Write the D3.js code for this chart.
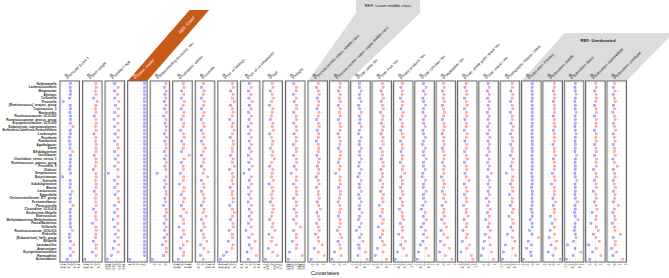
<!DOCTYPE html>
<html>
<head>
<meta charset="utf-8">
<script src="https://cdn.jsdelivr.net/npm/d3@7"></script>
<style>
  body { margin: 0; background: #fff; }
  text { font-family: "Liberation Sans", Arial, sans-serif; }
</style>
</head>
<body>
<div id="chart"></div>
<script>
// --- DATA ---
const rows = ["Holdemanella","Lachnoclostridium","Megamonas","Alistipes","Collinsella","Prevotella",
  "[Ruminococcus]_torques_group","Coprococcus_3","Bacteroides","Ruminococcaceae_UCG-002","Ruminococcaceae_gnavus_group",
  "Erysipelotrichaceae_UCG-003","Eubacterium_coprostanoligenes","Burkholderia-Caballeronia-Paraburkholderia",
  "Lachnospira","Roseburia","Romboutsia","Agathobacter","Dorea","Bifidobacterium","Oscillibacter",
  "Clostridium_sensu_stricto_1","Ruminococcus_gnavus_group","Prevotella_9","Dialister","Streptococcus",
  "Butyricimonas","Sutterella","Subdoligranulum","Blautia","Lactococcus","Eggerthella",
  "Christensenellaceae_R-7_group","Fusicatenibacter","Parasutterella","Clostridium_UCG-014",
  "Escherichia-Shigella","Enterococcus","Methylobacterium-Methylorubrum","Faecalibacterium","Veillonella",
  "Ruminococcaceae_UCG-013","Klebsiella","[Eubacterium]_hallii_group","Bilophila","Lactobacillus",
  "Anaerostipes","Erysipelatoclostridium","Haemophilus","Acinetobacter"];

const covariates = ["APGAR Score 1","Birth weight","Mother's age","Status: Awake","Breastfeeding exclusive: Yes",
  "Gestation: weeks","Gravida","No. of Siblings","No. of co-inhabitants","Age","Height",
  "Socioeconomic status: Middle class","Socioeconomic status: Upper middle class","Diet: Meat Yes","Diet: Fish Yes",
  "Dairy products Yes","Diet: Chicken Yes","Vegetables Yes","Diet: whole grain cereal Yes","Diet: snacks Yes",
  "Geographic Region: Other","Education: Primary","Education: Middle","Education: Basic",
  "Education: Intermediate","Education: Graduate"];

const domains = [[-0.6,0.4],[-0.6,0.3],[-0.06,0.04],[-4.2,0.2],[-2.5,0.5],[-0.6,0.6],[-0.3,0.6],[-0.8,0.3],
  [-0.4,0.4],[-0.1,0.15],[-0.06,0.06],[-1.5,1.5],[-1.5,1.5],[-1,1],[-1,1],[-1,1.5],[-1,1],[-1,2],[-1,1.5],
  [-1.5,1.5],[-1.5,1],[-2,1.5],[-2,1.5],[-1.5,1],[-1.5,1.5],[-1,2]];

const p0 = [-0.06,-0.08,-0.05,-0.07,-0.1,-0.5,-0.08,-0.06,-0.09,-0.05,-0.04,-0.07,0.1,-0.08,-0.06,-0.1,-0.12,-0.08,-0.09,0.08,-0.06,-0.05,-0.08,-0.07,-0.1,-0.05,-0.52,-0.08,-0.06,-0.09,0.05,-0.07,-0.06,-0.08,0.1,-0.05,-0.09,-0.06,-0.08,-0.07,-0.05,0.06,-0.1,-0.12,-0.06,0.15,-0.08,0.12,-0.06,-0.25];
const p1 = [0.05,0.06,0.04,0.06,-0.08,0.12,0.05,0.04,0.06,-0.05,0.05,0.07,0.04,0.06,-0.06,0.05,0.04,0.08,0.05,0.06,-0.04,0.05,0.06,0.04,-0.1,0.05,0.06,0.04,0.07,0.05,-0.05,0.06,0.04,0.05,0.06,-0.08,0.05,0.04,0.06,-0.12,0.05,0.06,0.05,0.04,-0.09,0.06,0.05,-0.14,0.06,-0.55];
const p2 = [-0.01,0.01,-0.012,0.008,-0.01,0.015,-0.008,0.012,-0.01,0.01,-0.015,0.009,-0.01,0.012,-0.009,0.01,-0.012,0.008,0.011,-0.01,0.01,-0.008,0.012,-0.01,0.009,-0.05,0.01,-0.012,0.008,-0.01,0.012,-0.009,0.01,0.015,-0.01,0.008,-0.012,0.01,-0.02,0.009,-0.01,0.012,-0.008,0.01,-0.012,0.015,-0.02,0.01,-0.03,-0.055];
const p3 = [-0.05,-0.06,-0.04,-0.05,-0.07,-0.05,-0.06,-0.04,-0.05,-0.06,-0.05,-0.04,-0.06,-0.05,-0.05,-0.07,-0.04,-0.05,-0.06,-0.05,-0.04,-0.05,-0.06,-0.05,-0.07,-0.05,-0.04,-0.06,-0.05,-0.05,-0.04,-0.06,-0.05,-0.05,-0.07,-0.04,-0.05,-0.06,-0.05,-0.04,-0.06,-0.05,-0.05,-0.07,-0.04,-0.05,-0.06,-0.05,-0.04,-4.0];
const p4 = [0.1,-0.15,0.12,-0.1,0.08,-0.2,0.1,-0.12,0.15,-0.3,0.1,-0.08,0.12,0.1,-0.15,0.2,-0.1,0.08,0.12,-0.2,0.1,-0.12,0.15,-0.1,0.08,-1.5,0.1,-0.15,0.12,-0.2,0.1,0.15,-0.1,0.08,-0.3,0.12,0.2,-0.1,0.15,-0.25,0.1,-0.12,0.3,-0.2,0.1,-0.5,0.15,0.2,-0.3,-2.3];
const p5 = [0.08,0.12,-0.05,0.1,-0.08,0.15,0.05,-0.1,0.12,0.08,-0.06,0.1,0.05,-0.12,0.08,0.15,-0.05,0.1,0.06,-0.08,0.5,0.12,-0.1,0.05,0.08,-0.15,0.1,0.06,-0.2,0.12,0.08,-0.1,0.15,0.05,-0.08,0.1,0.3,-0.12,0.06,0.1,-0.25,0.08,0.12,-0.1,0.35,0.05,-0.15,0.1,0.08,-0.3];
const p6 = [0.08,-0.04,0.1,0.06,-0.05,0.12,0.08,-0.03,0.1,0.05,-0.06,0.08,0.12,-0.04,0.06,0.1,-0.05,0.08,0.15,0.06,-0.04,0.1,0.08,-0.06,0.12,0.05,0.3,-0.05,0.08,0.1,-0.04,0.06,0.12,0.08,-0.06,0.1,0.05,0.2,-0.04,0.08,0.12,-0.05,0.06,0.1,0.25,-0.08,0.1,0.35,-0.1,0.05];
const p7 = [0.1,0.15,-0.05,0.12,0.08,0.2,-0.06,0.1,0.15,0.08,-0.1,0.12,0.05,0.18,0.1,-0.08,0.12,0.15,0.06,0.1,-0.05,0.12,0.08,0.2,-0.12,0.1,0.15,0.05,0.12,-0.08,0.1,0.06,0.15,0.12,-0.1,0.08,0.2,0.1,-0.05,0.12,0.15,-0.15,0.08,0.1,-0.2,0.12,0.05,-0.3,-0.5,-0.7];
const p8 = [-0.05,0.06,-0.08,0.04,-0.06,0.1,-0.04,0.05,-0.07,0.08,-0.05,0.06,-0.1,0.04,-0.06,0.07,-0.05,0.08,-0.04,0.06,-0.08,0.05,-0.06,0.1,-0.05,-0.3,0.06,-0.04,0.07,-0.08,0.05,-0.06,0.04,-0.1,0.06,-0.05,0.08,-0.04,0.06,-0.07,0.05,-0.2,0.1,-0.06,0.25,-0.05,0.08,-0.15,0.3,-0.1];
const p9 = [0.02,0.03,-0.01,0.02,0.04,0.01,-0.02,0.03,0.02,0.01,-0.01,0.03,0.02,0.04,-0.02,0.01,0.03,0.02,-0.01,0.03,0.02,0.05,0.01,-0.02,0.03,0.02,0.01,0.04,-0.03,0.02,0.03,0.01,0.02,-0.01,0.03,0.04,0.02,0.01,-0.02,0.03,0.02,0.06,-0.03,0.02,0.01,0.08,-0.04,0.03,0.1,-0.08];
const p10 = [-0.01,0.01,0.008,-0.012,0.01,-0.008,0.012,0.01,-0.01,0.009,0.011,-0.01,0.008,0.012,-0.009,0.01,0.008,-0.012,0.01,0.011,-0.01,0.009,0.012,-0.008,0.01,-0.03,0.011,0.01,-0.012,0.008,0.01,0.012,-0.01,0.009,0.011,-0.009,0.01,0.012,-0.01,0.008,0.04,-0.011,0.01,0.009,-0.02,0.012,0.01,-0.04,0.05,-0.05];
const p11 = [0.1,-0.2,0.15,0.3,-0.1,0.2,0.12,-0.15,0.25,0.1,-0.2,0.15,0.3,-0.1,0.2,0.1,-0.25,0.15,0.2,0.1,-0.15,0.3,0.12,-0.1,0.2,0.15,-0.3,0.1,0.25,-0.2,0.15,0.1,0.3,-0.1,0.2,0.5,-0.15,0.1,0.25,-0.2,0.15,0.3,-0.4,0.1,0.2,0.8,-0.6,0.15,1.2,-1.2];
const p12 = [0.2,0.15,-0.1,0.25,0.1,0.3,-0.15,0.2,0.12,0.25,-0.1,0.15,0.3,0.2,-0.2,0.1,0.25,0.15,-0.1,0.3,0.2,0.12,-0.15,0.25,0.1,-0.6,0.2,0.15,0.3,-0.1,0.25,0.2,0.1,-0.2,0.15,0.3,0.12,-0.15,0.2,0.25,0.1,-0.3,0.2,0.5,-0.2,0.15,0.3,-0.8,0.4,-1.3];
const p13 = [-0.1,-0.15,0.08,-0.12,-0.08,0.1,-0.2,-0.1,0.12,-0.15,-0.05,-0.1,0.1,-0.12,-0.2,0.08,-0.1,-0.15,0.12,-0.08,-0.1,0.15,-0.12,-0.2,0.1,-0.1,-0.3,0.08,-0.15,-0.1,0.12,-0.2,-0.08,0.1,-0.12,-0.15,0.2,-0.1,-0.25,0.08,-0.12,-0.5,0.15,-0.1,0.3,-0.2,-0.15,0.6,-0.3,0.8];
const p14 = [0.1,0.15,-0.1,0.12,0.2,-0.08,0.1,0.18,-0.12,0.15,0.1,-0.05,0.2,0.12,-0.1,0.15,0.08,0.2,-0.15,0.1,0.12,-0.08,0.15,0.2,-0.1,0.12,0.1,-0.2,0.15,0.08,-0.12,0.2,0.1,0.15,-0.3,0.12,0.1,-0.15,0.2,0.08,-0.4,0.15,0.12,-0.2,0.1,0.3,-0.5,0.15,-0.8,0.6];
const p15 = [0.2,-0.1,0.15,0.1,-0.15,0.2,0.12,-0.08,0.25,0.1,-0.12,0.15,0.2,-0.1,0.12,0.3,-0.15,0.1,0.2,-0.08,0.15,0.1,-0.2,0.25,0.12,0.5,-0.1,0.15,0.2,-0.12,0.1,0.25,-0.15,0.12,0.2,-0.3,0.1,0.15,0.35,-0.2,0.12,0.2,-0.4,0.15,0.6,-0.1,0.3,-0.6,0.8,-0.9];
const p16 = [-0.1,0.2,-0.15,0.1,-0.2,-0.1,0.15,-0.12,-0.2,0.1,-0.15,-0.1,0.12,-0.2,-0.1,0.15,-0.12,-0.25,0.1,-0.15,-0.1,0.2,-0.12,-0.15,0.1,-0.2,-0.3,0.12,-0.1,-0.15,0.2,-0.12,-0.1,0.15,-0.2,-0.35,0.1,-0.15,0.25,-0.12,-0.4,0.15,-0.1,0.3,-0.2,-0.5,0.2,-0.7,0.5,-0.9];
const p17 = [0.1,0.2,-0.1,0.15,0.1,0.25,-0.15,0.1,0.2,0.12,-0.1,0.15,0.3,0.1,-0.2,0.15,0.1,0.2,-0.12,0.1,0.25,0.15,-0.1,0.2,0.1,0.15,-0.3,0.1,0.2,0.12,-0.15,0.25,0.1,0.5,-0.2,0.15,0.1,0.3,-0.25,0.2,0.6,-0.4,0.15,0.8,-0.5,0.3,1.2,-0.6,0.4,1.6];
const p18 = [0.1,-0.1,0.15,0.2,-0.12,0.1,0.25,-0.15,0.12,0.2,-0.1,0.15,0.1,-0.2,0.25,0.12,-0.1,0.2,0.15,-0.12,0.1,0.3,-0.15,0.12,0.2,-0.1,0.15,0.5,-0.2,0.1,0.25,-0.15,0.12,0.2,-0.3,0.15,0.1,0.4,-0.25,0.2,0.12,-0.4,0.3,0.15,-0.5,0.6,0.2,-0.7,0.9,1.1];
const p19 = [-0.1,0.15,-0.2,0.1,-0.15,0.2,-0.1,0.12,-0.25,0.15,-0.1,0.2,-0.15,0.1,-0.2,0.25,-0.12,0.15,-0.1,0.2,-0.3,0.1,-0.15,0.2,-0.1,0.5,-0.2,0.15,-0.12,0.25,-0.1,0.2,-0.4,0.1,-0.15,0.3,-0.2,0.15,-0.5,0.2,-0.1,0.4,-0.6,0.15,-0.8,0.3,-1.0,0.5,-1.3,0.9];
const p20 = [0.1,0.15,-0.1,0.2,0.12,-0.15,0.1,0.2,-0.2,0.15,0.1,-0.1,0.25,0.12,-0.15,0.1,0.2,-0.12,0.15,0.1,-0.2,0.25,0.12,-0.1,0.15,-0.8,0.2,0.1,-0.15,0.12,0.2,-0.3,0.15,0.1,-0.2,0.25,0.12,-0.4,0.15,0.3,-0.1,0.2,-0.6,0.15,0.5,-0.9,0.2,-1.2,0.6,-1.4];
const p21 = [-0.05,-0.08,-0.1,-0.06,-0.05,-0.12,-0.08,-0.05,-0.1,-0.06,-0.08,-0.05,-0.12,-0.06,-0.1,-0.05,-0.08,-0.06,-0.1,-0.05,-0.12,-0.08,-0.06,-0.05,-0.1,-0.15,-0.08,-0.05,-0.1,-0.2,-0.06,-0.08,-0.12,-0.05,-0.1,-0.3,-0.08,-0.06,-0.5,-0.1,-0.08,-0.6,-0.12,1.3,-0.9,-0.2,-1.2,-0.4,-0.3,-1.9];
const p22 = [0.1,0.15,-0.1,0.2,0.12,-0.05,0.15,0.1,0.2,-0.15,0.12,0.1,0.25,-0.1,0.15,0.2,0.12,-0.2,0.1,0.15,0.3,-0.1,0.12,0.2,0.15,-0.3,0.1,0.25,-0.5,0.12,0.2,0.15,-0.2,0.4,-0.15,0.2,0.1,-0.7,0.3,-0.4,0.15,-0.8,0.2,-1.0,0.6,-0.6,0.4,-1.2,-0.2,1.4];
const p23 = [-0.05,-0.1,-0.08,0.1,-0.06,-0.12,-0.05,-0.08,0.08,-0.1,-0.06,-0.05,-0.12,-0.08,0.1,-0.06,-0.1,-0.05,-0.08,-0.12,0.15,-0.06,-0.1,-0.05,-0.08,-0.12,-0.06,0.2,-0.1,-0.08,-0.05,-0.12,-0.06,0.3,-0.1,-0.08,-0.15,-0.05,0.35,-0.1,-0.12,-0.2,-0.08,0.1,-0.3,-1.2,-0.1,0.8,-0.4,-1.4];
const p24 = [0.1,0.15,-0.1,0.12,0.2,0.1,-0.15,0.12,0.15,-0.1,0.2,0.1,0.12,-0.2,0.15,0.1,0.2,-0.12,0.1,0.15,-0.1,0.2,0.12,0.15,-0.3,0.1,0.2,-0.15,0.12,0.25,-0.4,0.1,0.15,-0.2,0.12,0.3,-0.6,0.15,0.1,-0.8,0.2,0.5,-0.3,0.1,0.7,-1.2,0.15,-0.5,1.0,-1.0];
const p25 = [0.15,-0.1,0.2,-0.15,0.1,0.25,-0.1,0.12,-0.2,0.15,0.2,-0.1,0.12,0.3,-0.15,0.1,0.2,-0.12,0.15,0.1,0.25,-0.2,0.12,0.6,-0.1,0.15,0.2,-0.15,0.1,0.3,-0.12,0.2,0.15,-0.1,0.8,0.12,-0.2,0.15,0.25,-0.3,0.1,0.2,1.2,-0.15,0.3,0.2,-0.4,0.5,-0.2,1.6];
const coefs = [p0,p1,p2,p3,p4,p5,p6,p7,p8,p9,p10,p11,p12,p13,p14,p15,p16,p17,p18,p19,p20,p21,p22,p23,p24,p25];

// reference groups (banners)
const refBanners = [
  {text: "REF: Crawl", from: 3, to: 3},
  {text: "REF: Lower middle class", from: 11, to: 12},
  {text: "REF: Uneducated", from: 21, to: 25}
];

// --- SETUP ---
const width = 669, height = 278;
const svg = d3.select("#chart").append("svg").attr("width", width).attr("height", height);

const panelX = d3.scaleLinear().domain([0, 11, 25]).range([60, 308, 607]);
const pw = 19.5, topY = 81, botY = 262;
const y = d3.scaleBand().domain(rows).range([topY + 1, botY - 1]);
const orange = "#c85a1a", grey = "#dcdcdc";

// --- BANNERS (behind labels) ---
const bannerLayer = svg.append("g");
{
  const b = refBanners[0];
  const L = panelX(b.from), R = panelX(b.to) + pw;
  bannerLayer.append("polygon")
    .attr("points", [[L, topY], [R, topY], [R + 62, 10], [L + 62, 10]].join(" "))
    .attr("fill", orange);
  bannerLayer.append("text")
    .attr("transform", `translate(${L + 59},${25}) rotate(-49)`)
    .attr("text-anchor", "middle").attr("dy", "0.35em")
    .attr("font-size", 4.2).attr("fill", "#fff").text(b.text);
}
{
  const b = refBanners[1];
  const L = panelX(b.from), R = panelX(b.to) + pw;
  bannerLayer.append("polygon")
    .attr("points", [[L, topY], [R, topY], [420, 13], [420, 0], [356, 0], [356, 13]].join(" "))
    .attr("fill", grey);
  bannerLayer.append("text")
    .attr("x", 388).attr("y", 7).attr("text-anchor", "middle")
    .attr("font-size", 4.2).attr("fill", "#222").text(b.text);
}
{
  const b = refBanners[2];
  const L = panelX(b.from), R = panelX(b.to) + pw;
  bannerLayer.append("polygon")
    .attr("points", [[L, topY], [R, topY], [R + 47, 33], [L + 43, 33]].join(" "))
    .attr("fill", grey);
  bannerLayer.append("text")
    .attr("x", 598).attr("y", 42).attr("text-anchor", "middle")
    .attr("font-size", 4.2).attr("font-weight", "bold").attr("fill", "#222").text(b.text);
}

// --- ROW LABELS ---
svg.append("g").selectAll("text").data(rows).join("text")
  .attr("x", 56.5).attr("y", d => y(d) + y.bandwidth() / 2)
  .attr("dy", "0.35em").attr("text-anchor", "end")
  .attr("font-size", 3.1).attr("font-weight", "bold").attr("fill", "#222")
  .text(d => d)
  .each(function() {
    // squeeze labels that would run off the left edge
    if (this.getComputedTextLength() > 54) d3.select(this).attr("textLength", 54).attr("lengthAdjust", "spacingAndGlyphs");
  });

// --- PANELS ---
covariates.forEach((cov, i) => {
  const L = panelX(i);
  const x = d3.scaleLinear().domain(domains[i]).range([L + 1.5, L + pw - 1.5]);
  const g = svg.append("g");

  // frame
  g.append("rect").attr("x", L).attr("y", topY).attr("width", pw).attr("height", botY - topY)
    .attr("fill", "#fff").attr("stroke", "#666").attr("stroke-width", 1.1);
  g.append("rect").attr("x", L + 0.9).attr("y", topY + 0.9).attr("width", pw - 1.8).attr("height", botY - topY - 1.8)
    .attr("fill", "none").attr("stroke", "#d0d0d0").attr("stroke-width", 0.6);

  // row grid
  g.selectAll("line.grid").data(rows).join("line").attr("class", "grid")
    .attr("x1", L + 1.5).attr("x2", L + pw - 1.5)
    .attr("y1", d => y(d) + y.bandwidth() / 2).attr("y2", d => y(d) + y.bandwidth() / 2)
    .attr("stroke", "#eee").attr("stroke-width", 0.3);

  // zero line
  g.append("line").attr("x1", x(0)).attr("x2", x(0)).attr("y1", topY + 1).attr("y2", botY - 1)
    .attr("stroke", "#bbb").attr("stroke-width", 0.4).attr("stroke-dasharray", "1,1");

  // points
  g.selectAll("rect.pt").data(coefs[i].map((v, j) => ({v, row: rows[j]}))).join("rect").attr("class", "pt")
    .attr("x", d => x(d.v) - 1).attr("y", d => y(d.row) + y.bandwidth() / 2 - 1)
    .attr("width", 2).attr("height", 2)
    .attr("fill", d => d.v < 0 ? "#b0b0ff" : "#ffb0b0")
    .attr("stroke", d => d.v < 0 ? "#6060ff" : "#ff6a6a").attr("stroke-width", 0.3);

  // axis
  const ax = g.append("g").attr("transform", `translate(0,${botY})`)
    .call(d3.axisBottom(x).ticks(4).tickSize(1).tickFormat(d3.format("~g")));
  ax.select(".domain").remove();
  ax.selectAll("line").attr("stroke", "#555").attr("stroke-width", 0.3);
  ax.selectAll("text").attr("font-size", 3).attr("fill", "#333")
    .attr("transform", "rotate(-90)").attr("text-anchor", "end")
    .attr("x", -1.5).attr("y", 0).attr("dy", "0.35em");

  // header label
  const lab = svg.append("text")
    .attr("transform", `translate(${L + 7},${topY - 2.5}) rotate(-45)`)
    .attr("fill", i === 3 ? "#fff" : "#111");
  lab.append("tspan").attr("font-size", 6).text("β");
  lab.append("tspan").attr("font-size", 3.7).attr("dy", 1.3).text(cov);
});

// --- AXIS TITLE ---
svg.append("text").attr("x", 325).attr("y", 275).attr("text-anchor", "middle")
  .attr("font-size", 6).attr("fill", "#222").text("Covariates");
</script>
</body>
</html>
